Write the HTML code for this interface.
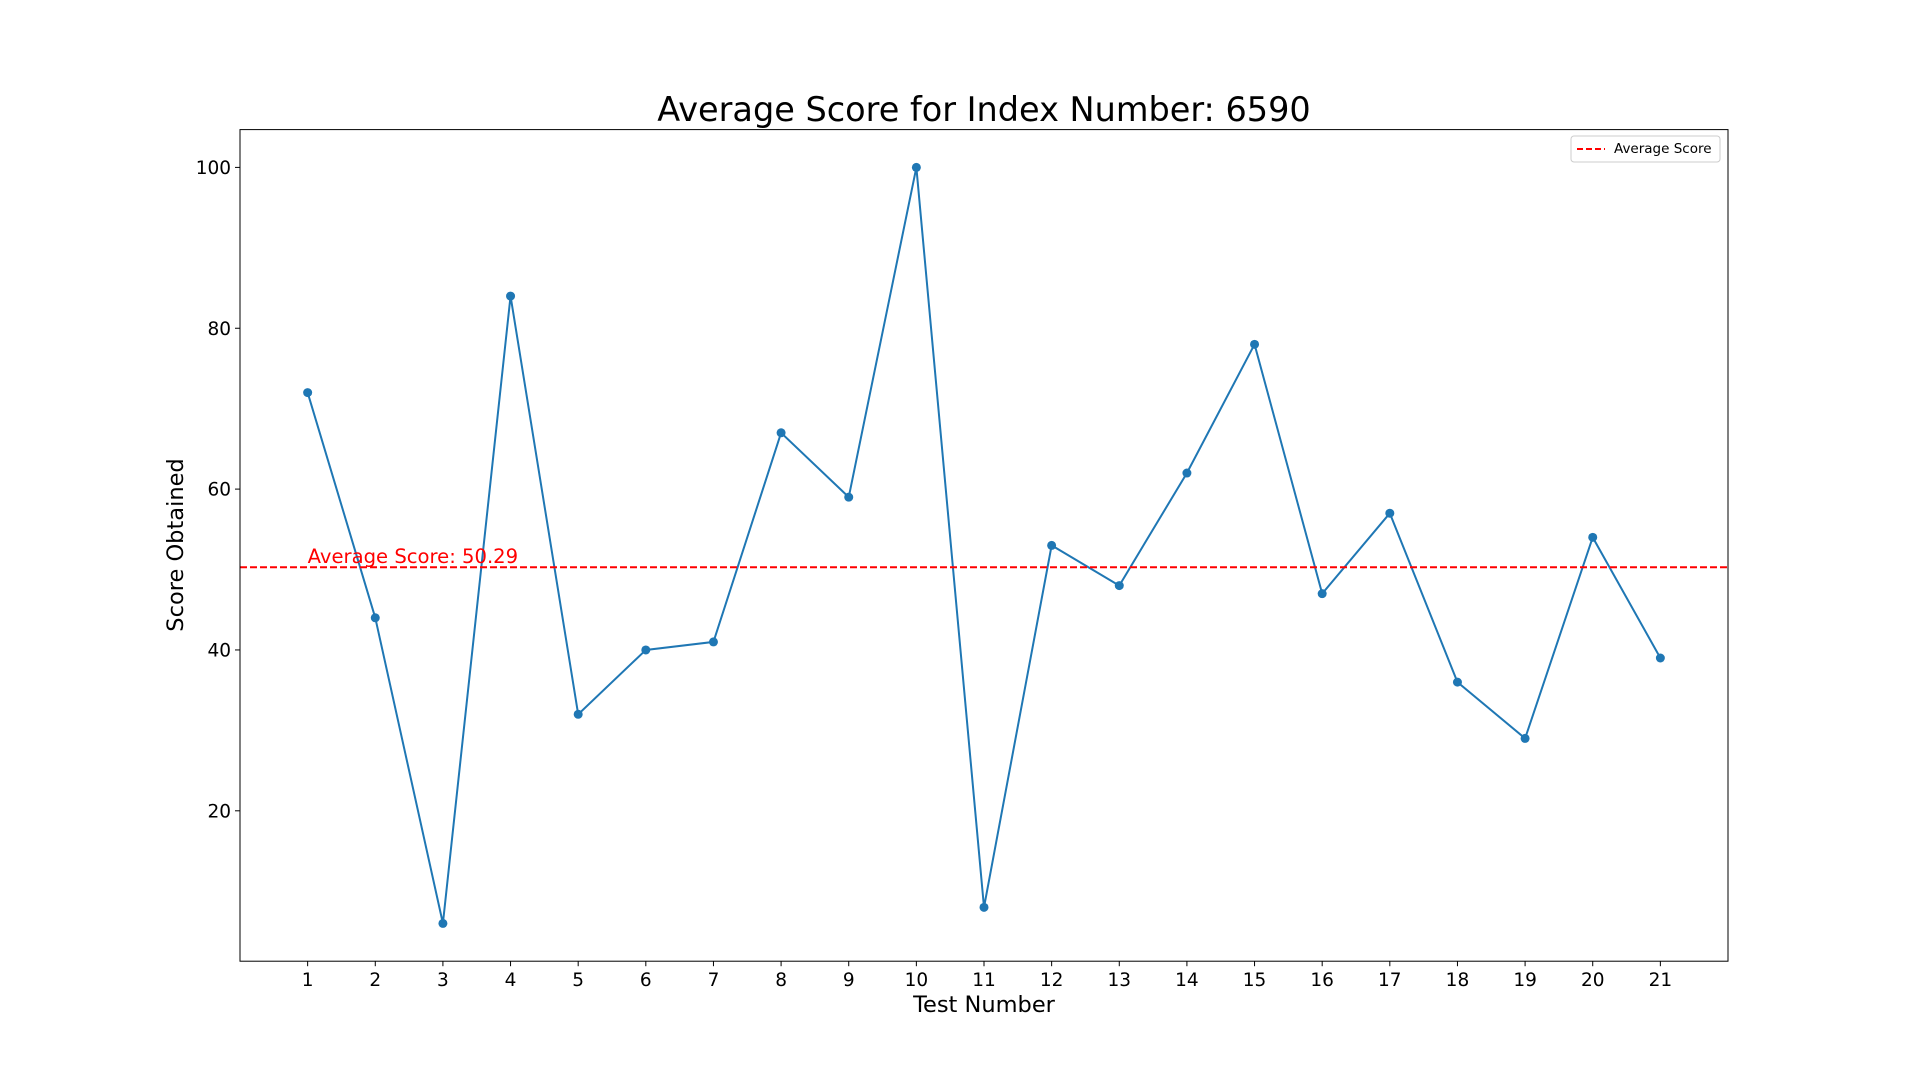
<!DOCTYPE html>
<html><head><meta charset="utf-8"><style>
html,body{margin:0;padding:0;background:#fff;}
svg{display:block;font-family:"DejaVu Sans","Liberation Sans",sans-serif;}
</style></head><body>
<svg id="chart" width="1920" height="1080" viewBox="0 0 1920 1080">
<rect width="1920" height="1080" fill="#fff"/>
<text x="984" y="121" font-size="33.5" text-anchor="middle">Average Score for Index Number: 6590</text>
<g id="grid"></g>
<g id="marks"></g>
<rect x="240" y="129.6" width="1488" height="831.6" fill="none" stroke="#000" stroke-width="1"/>
<text x="984" y="1012" font-size="22.5" text-anchor="middle">Test Number</text>
<text transform="translate(183,545) rotate(-90)" font-size="22.5" text-anchor="middle">Score Obtained</text>
<g>
<rect x="1571" y="136" width="149" height="26" fill="#fff" stroke="#ccc" rx="3"/>
<line x1="1577" y1="149" x2="1605" y2="149" stroke="red" stroke-width="2" stroke-dasharray="6,3"/>
<text x="1614" y="153" font-size="13.5">Average Score</text>
</g>
</svg>
<script>
const tests=[1,2,3,4,5,6,7,8,9,10,11,12,13,14,15,16,17,18,19,20,21];
const scores=[72,44,6,84,32,40,41,67,59,100,8,53,48,62,78,47,57,36,29,54,39];
const yTicks=[20,40,60,80,100];
const NS="http://www.w3.org/2000/svg";
const L=240,R=1728,T=129.6,B=961.2;
const avg=scores.reduce((a,b)=>a+b,0)/scores.length;
const ymin=1.3,ymax=104.7;
const xmin=0,xmax=tests.length+1;
const xs=v=>L+(v-xmin)/(xmax-xmin)*(R-L);
const ys=v=>B-(v-ymin)/(ymax-ymin)*(B-T);
const g=document.getElementById('grid'),m=document.getElementById('marks');
function el(t,a,p){const e=document.createElementNS(NS,t);for(const k in a)e.setAttribute(k,a[k]);p.appendChild(e);return e;}
tests.forEach(t=>{
  const tk=el('line',{x1:xs(t),x2:xs(t),y1:B,y2:B+5,stroke:'#000'},g);
  
  
  const tx=el('text',{x:xs(t),y:B+25,'font-size':18.5,'text-anchor':'middle'},g);
  tx.textContent=t;
  
  
});
yTicks.forEach(v=>{
  const tk=el('line',{x1:L-5,x2:L,y1:ys(v),y2:ys(v),stroke:'#000'},g);
  
  
  const tx=el('text',{x:L-9,y:ys(v)+6.5,'font-size':18.5,'text-anchor':'end'},g);
  tx.textContent=v;
  
  
});
const pts=tests.map((t,i)=>xs(t)+','+ys(scores[i])).join(' ');
const pl=el('polyline',{points:pts,fill:'none',stroke:'#1f77b4','stroke-width':2},m);


tests.forEach((t,i)=>{
  const c=el('circle',{cx:xs(t),cy:ys(scores[i]),r:4.5,fill:'#1f77b4'},m);
  
  
});
const al=el('line',{x1:L,x2:R,y1:ys(avg),y2:ys(avg),stroke:'red','stroke-width':2,'stroke-dasharray':'7,3'},m);


const at=el('text',{x:xs(1),y:ys(avg)-4,'font-size':19.6,fill:'red'},m);
at.textContent='Average Score: '+avg.toFixed(2);


</script>
</body></html>
